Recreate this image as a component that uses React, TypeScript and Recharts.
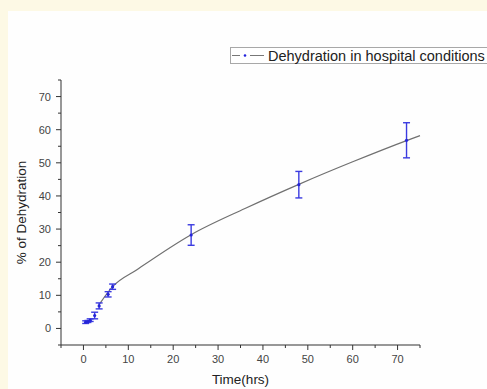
import { ComposedChart, Line, Scatter, ErrorBar, XAxis, YAxis, Legend } from 'recharts';

const hours = [0.5, 1, 1.5, 2.5, 3.5, 5.5, 6.5, 24, 48, 72];
const dehydration = [1.9, 2.1, 2.5, 3.9, 6.8, 10.3, 12.6, 28.2, 43.4, 56.8];
const dehydrationErr = [0.4, 0.3, 0.4, 1.0, 0.9, 0.8, 0.8, 3.1, 4.0, 5.3];

// fitted curve
const fitHours = [3.5, 6.5, 12, 24, 36, 48, 60, 72, 75];
const fitValues = [7.2, 12.6, 17.8, 28.3, 36.2, 43.5, 50.3, 56.7, 58.2];

const axisTicks = [-5, 0, 5, 10, 15, 20, 25, 30, 35, 40, 45, 50, 55, 60, 65, 70, 75];

const points = hours.map((t, i) => ({ t, v: dehydration[i], err: dehydrationErr[i] }));
const fit = fitHours.map((t, i) => ({ t, fit: fitValues[i] }));

const FONT = '"Liberation Sans", Arial, sans-serif';
const AXIS = '#333';

const isMajor = (v: number) => v % 10 === 0 && v >= 0 && v <= 70;

function XTick(props: any) {
    const { x, y, payload } = props;
    const major = isMajor(payload.value);
    const len = major ? 5 : 3;
    return (
        <g>
            <line x1={x} y1={y} x2={x} y2={y + len} stroke={AXIS} strokeWidth={1} />
            {major && (
                <text x={x} y={y + 18} textAnchor="middle" fontSize={11} fill="#444" fontFamily={FONT}>
                    {payload.value}
                </text>
            )}
        </g>
    );
}

function YTick(props: any) {
    const { x, y, payload } = props;
    const major = isMajor(payload.value);
    const len = major ? 5 : 3;
    return (
        <g>
            <line x1={x - len} y1={y} x2={x} y2={y} stroke={AXIS} strokeWidth={1} />
            {major && (
                <text x={x - 10} y={y} dy="0.36em" textAnchor="end" fontSize={11} fill="#444" fontFamily={FONT}>
                    {payload.value}
                </text>
            )}
        </g>
    );
}

function LegendBox() {
    return (
        <div
            style={{
                display: 'flex',
                alignItems: 'center',
                width: 300,
                height: 15,
                border: '1px solid #a8a8a8',
                background: '#fff',
                fontFamily: FONT,
                fontSize: 14.5,
                color: '#222',
                whiteSpace: 'nowrap',
            }}
        >
            <svg width={37} height={15} style={{ flex: 'none' }}>
                <line x1={1} y1={7.5} x2={9} y2={7.5} stroke="#777" strokeWidth={1} />
                <circle cx={14} cy={7.5} r={1.3} fill="#2222dd" />
                <line x1={19} y1={7.5} x2={33} y2={7.5} stroke="#777" strokeWidth={1} />
            </svg>
            <span>Dehydration in hospital conditions</span>
        </div>
    );
}

export default function App() {
    return (
        <div style={{ position: 'absolute', left: 0, top: 0, width: 487, height: 389, background: '#fdf9e5', overflow: 'hidden' }}>
            <div style={{ position: 'absolute', left: 8, top: 11, right: 0, bottom: 0, background: '#fefefe' }} />
            <div style={{ position: 'absolute', left: 0, top: 0 }}>
                <ComposedChart width={487} height={389} margin={{ top: 80, right: 67, bottom: 0, left: 0 }}>
                    <XAxis
                        dataKey="t"
                        type="number"
                        domain={[-5, 75]}
                        ticks={axisTicks}
                        interval={0}
                        height={44}
                        stroke={AXIS}
                        tickLine={false}
                        tickSize={0}
                        tickMargin={0}
                        tick={<XTick />}
                        label={{
                            value: 'Time(hrs)',
                            position: 'insideBottom',
                            offset: 5,
                            fontSize: 13.5,
                            fill: '#222',
                            fontFamily: FONT,
                        }}
                    />
                    <YAxis
                        type="number"
                        domain={[-5, 75]}
                        ticks={axisTicks}
                        interval={0}
                        width={61}
                        stroke={AXIS}
                        tickLine={false}
                        tickSize={0}
                        tickMargin={0}
                        tick={<YTick />}
                        label={{
                            content: (p: any) => {
                                const vb = p.viewBox;
                                const cx = vb.x + 21;
                                const cy = vb.y + vb.height / 2;
                                return (
                                    <text
                                        x={cx}
                                        y={cy}
                                        transform={`rotate(-90 ${cx} ${cy})`}
                                        textAnchor="middle"
                                        dy="0.36em"
                                        fontSize={13.5}
                                        fill="#222"
                                        fontFamily={FONT}
                                    >
                                        % of Dehydration
                                    </text>
                                );
                            },
                        }}
                    />
                    <Legend
                        layout="vertical"
                        align="center"
                        verticalAlign="middle"
                        content={() => <LegendBox />}
                        wrapperStyle={{ position: 'absolute', left: 230, top: 47, width: 300 }}
                    />
                    <Line
                        data={fit}
                        dataKey="fit"
                        type="monotone"
                        stroke="#707070"
                        strokeWidth={1.2}
                        dot={false}
                        activeDot={false}
                        legendType="none"
                        isAnimationActive={false}
                    />
                    <Scatter
                        data={points}
                        dataKey="v"
                        fill="#2424d8"
                        shape={(p: any) => <circle cx={p.cx} cy={p.cy} r={1.6} fill="#2424d8" />}
                        isAnimationActive={false}
                    >
                        <ErrorBar dataKey="err" direction="y" width={3.5} stroke="#3b3be0" strokeWidth={1.4} isAnimationActive={false} />
                    </Scatter>
                </ComposedChart>
            </div>
        </div>
    );
}
